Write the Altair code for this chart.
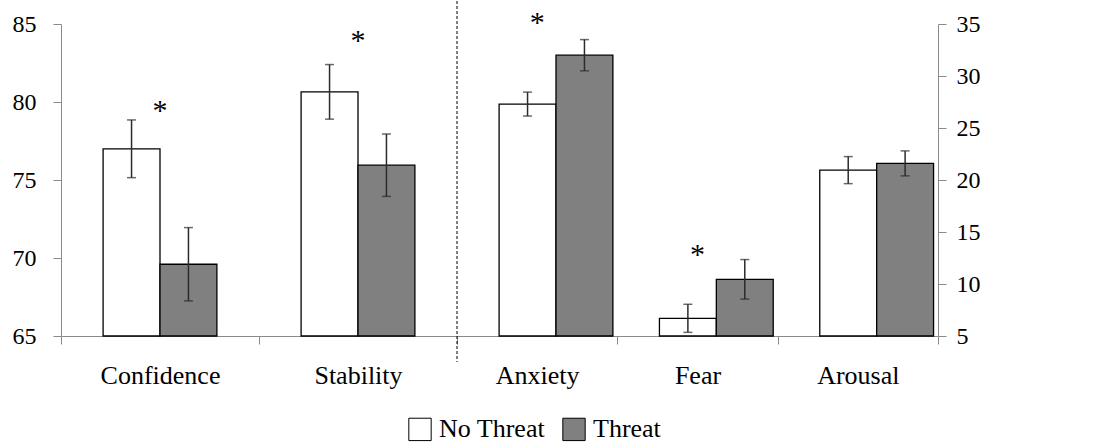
import altair as alt
import pandas as pd

# Group means and standard errors
conditions = ["No Threat", "Threat"]

left_categories = ["Confidence", "Stability"]
left_no_threat = [77.0, 80.65]
left_threat = [69.6, 75.95]
left_no_threat_err = [1.85, 1.75]
left_threat_err = [2.35, 2.0]
left_star = [79.6, 84.1]

right_categories = ["Anxiety", "Fear", "Arousal"]
right_no_threat = [27.3, 6.7, 20.95]
right_threat = [32.0, 10.45, 21.6]
right_no_threat_err = [1.15, 1.35, 1.3]
right_threat_err = [1.5, 1.9, 1.2]
right_star = [35.4, 13.1]
right_star_categories = ["Anxiety", "Fear"]

FONT = "Liberation Serif"
AXIS_GRAY = "#8a8a8a"


def build_frame(cats, nt, th, nt_err, th_err):
    rows = []
    for c, m, e in zip(cats, nt, nt_err):
        rows.append({"category": c, "condition": "No Threat", "mean": m, "lo": m - e, "hi": m + e})
    for c, m, e in zip(cats, th, th_err):
        rows.append({"category": c, "condition": "Threat", "mean": m, "lo": m - e, "hi": m + e})
    return pd.DataFrame(rows)


left_df = build_frame(left_categories, left_no_threat, left_threat, left_no_threat_err, left_threat_err)
right_df = build_frame(right_categories, right_no_threat, right_threat, right_no_threat_err, right_threat_err)
left_star_df = pd.DataFrame({"category": left_categories, "star": left_star})
right_star_df = pd.DataFrame({"category": right_star_categories, "star": right_star})


def panel(df, star_df, cats, domain, ticks, orient, width, label_pad, with_divider):
    x_enc = alt.X(
        "category:N", sort=cats, title=None,
        scale=alt.Scale(paddingInner=0, paddingOuter=0),
        axis=alt.Axis(labelAngle=0, tickBand="extent", tickSize=8, tickColor=AXIS_GRAY,
                      domainColor=AXIS_GRAY, labelFont=FONT, labelFontSize=26,
                      labelColor="black", labelPadding=18, grid=False),
    )
    y_scale = alt.Scale(domain=domain, nice=False, zero=False)
    y_axis = alt.Axis(orient=orient, values=ticks, title=None, grid=False, tickSize=8,
                      tickColor=AXIS_GRAY, domainColor=AXIS_GRAY, labelFont=FONT,
                      labelFontSize=24, labelColor="black", labelPadding=label_pad)
    xoff = alt.XOffset("condition:N", sort=conditions,
                       scale=alt.Scale(paddingOuter=0.74, paddingInner=0))

    base = alt.Chart(df).encode(x=x_enc, xOffset=xoff)
    bars = base.mark_bar(stroke="black", strokeWidth=1.3).encode(
        y=alt.Y("mean:Q", scale=y_scale, axis=y_axis),
        y2=alt.datum(domain[0]),
        fill=alt.Fill("condition:N", sort=conditions,
                      scale=alt.Scale(domain=conditions, range=["white", "#808080"]),
                      legend=alt.Legend(title=None, orient="none", direction="horizontal",
                                        legendX=346, legendY=392, symbolType="square",
                                        symbolSize=500, symbolStrokeColor="black",
                                        symbolStrokeWidth=1, labelFont=FONT,
                                        labelFontSize=26, labelColor="black",
                                        labelOffset=6, columnPadding=14)),
    )
    err_color = "#2b2b2b"
    whisker = base.mark_rule(color=err_color, strokeWidth=1.5).encode(
        y=alt.Y("lo:Q", scale=y_scale), y2="hi:Q")
    cap_lo = base.mark_tick(color=err_color, thickness=1.5, size=9).encode(
        y=alt.Y("lo:Q", scale=y_scale))
    cap_hi = base.mark_tick(color=err_color, thickness=1.5, size=9).encode(
        y=alt.Y("hi:Q", scale=y_scale))
    stars = alt.Chart(star_df).mark_text(text="*", font=FONT, fontSize=30,
                                         baseline="middle", dy=3, color="black").encode(
        x=alt.X("category:N", sort=cats), y=alt.Y("star:Q", scale=y_scale))
    layers = [bars, whisker, cap_lo, cap_hi, stars]
    if with_divider:
        divider = alt.Chart(pd.DataFrame({"k": [0]})).mark_rule(
            color="black", strokeWidth=1, strokeDash=[3, 2]).encode(
            x=alt.value(0), y=alt.value(-23), y2=alt.value(338))
        layers.append(divider)
    return alt.layer(*layers).properties(width=width, height=312)


left = panel(left_df, left_star_df, left_categories, [65, 85], [65, 70, 75, 80, 85],
             "left", 396, 17, False)
right = panel(right_df, right_star_df, right_categories, [5, 35], [5, 10, 15, 20, 25, 30, 35],
              "right", 481, 10, True)

chart = alt.hconcat(left, right, spacing=0, bounds="flush").properties(
    padding={"left": 12, "top": 0, "right": 5, "bottom": 5},
    background="white",
).configure_view(stroke=None)

chart.save("out.html", embed_options={"renderer": "svg", "actions": False})
